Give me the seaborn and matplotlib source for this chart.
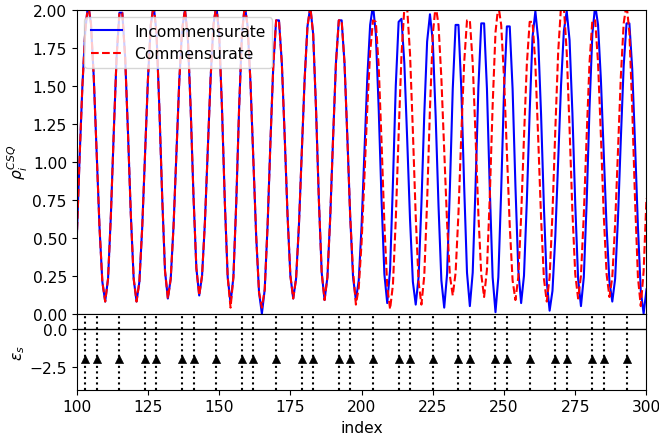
import numpy as np
import matplotlib
matplotlib.use("Agg")
import matplotlib.pyplot as plt
import seaborn as sns

# Site index along the chain
site_index = list(range(100, 301))

# Charge density of the incommensurate solution
rho_incommensurate = [
    0.48, 1.02, 1.50, 1.86, 2.04, 1.91, 1.55, 1.06, 0.57, 0.21,
    0.08, 0.23, 0.65, 1.19, 1.69, 1.98, 1.98, 1.69, 1.19, 0.65,
    0.23, 0.08, 0.21, 0.57, 1.06, 1.54, 1.90, 2.03, 1.85, 1.36,
    0.77, 0.28, 0.10, 0.23, 0.58, 1.05, 1.53, 1.87, 2.00, 1.82,
    1.35, 0.77, 0.30, 0.12, 0.25, 0.60, 1.08, 1.55, 1.90, 2.03,
    1.84, 1.35, 0.73, 0.24, 0.07, 0.24, 0.73, 1.35, 1.84, 2.03,
    1.89, 1.52, 1.02, 0.51, 0.14, 0.00, 0.16, 0.58, 1.13, 1.63,
    1.93, 1.93, 1.65, 1.17, 0.65, 0.25, 0.10, 0.23, 0.58, 1.06,
    1.54, 1.89, 2.02, 1.84, 1.35, 0.75, 0.27, 0.09, 0.24, 0.64,
    1.16, 1.65, 1.93, 1.93, 1.65, 1.16, 0.64, 0.24, 0.09, 0.22,
    0.58, 1.06, 1.55, 1.90, 2.03, 1.84, 1.35, 0.75, 0.26, 0.07,
    0.29, 0.86, 1.50, 1.92, 1.94, 1.65, 1.15, 0.62, 0.21, 0.06,
    0.24, 0.72, 1.31, 1.79, 1.97, 1.79, 1.30, 0.71, 0.22, 0.04,
    0.26, 0.83, 1.48, 1.90, 1.90, 1.48, 0.84, 0.27, 0.05, 0.27,
    0.84, 1.49, 1.91, 1.91, 1.48, 0.82, 0.24, 0.01, 0.24, 0.81,
    1.47, 1.89, 1.89, 1.48, 0.84, 0.29, 0.07, 0.25, 0.74, 1.33,
    1.82, 1.99, 1.80, 1.31, 0.70, 0.21, 0.02, 0.15, 0.51, 1.01,
    1.50, 1.86, 1.99, 1.80, 1.32, 0.72, 0.23, 0.05, 0.24, 0.73,
    1.35, 1.84, 2.03, 1.90, 1.54, 1.06, 0.57, 0.21, 0.08, 0.23,
    0.63, 1.15, 1.63, 1.91, 1.91, 1.61, 1.11, 0.57, 0.15, 0.00,
    0.16,
]

# Charge density of the commensurate solution
rho_commensurate = [
    0.48, 1.02, 1.50, 1.86, 2.04, 1.91, 1.55, 1.06, 0.57, 0.21,
    0.08, 0.23, 0.65, 1.19, 1.69, 1.98, 1.98, 1.69, 1.19, 0.65,
    0.23, 0.08, 0.21, 0.57, 1.06, 1.54, 1.90, 2.03, 1.85, 1.36,
    0.77, 0.28, 0.10, 0.23, 0.58, 1.05, 1.53, 1.87, 2.00, 1.82,
    1.35, 0.77, 0.30, 0.12, 0.25, 0.60, 1.08, 1.55, 1.90, 2.03,
    1.84, 1.35, 0.73, 0.24, 0.04, 0.24, 0.73, 1.35, 1.84, 2.03,
    1.89, 1.52, 1.02, 0.51, 0.14, 0.04, 0.16, 0.58, 1.13, 1.63,
    1.93, 1.93, 1.65, 1.17, 0.65, 0.25, 0.10, 0.23, 0.58, 1.06,
    1.54, 1.89, 2.02, 1.84, 1.35, 0.75, 0.27, 0.09, 0.24, 0.64,
    1.16, 1.65, 1.93, 1.93, 1.65, 1.16, 0.64, 0.28, 0.06, 0.17,
    0.47, 0.90, 1.35, 1.72, 1.93, 1.92, 1.63, 1.13, 0.59, 0.18,
    0.03, 0.19, 0.62, 1.18, 1.70, 2.01, 2.01, 1.71, 1.20, 0.64,
    0.21, 0.06, 0.25, 0.74, 1.35, 1.84, 2.03, 1.90, 1.55, 1.08,
    0.60, 0.25, 0.12, 0.27, 0.66, 1.18, 1.65, 1.93, 1.93, 1.65,
    1.17, 0.65, 0.26, 0.11, 0.29, 0.77, 1.37, 1.85, 2.03, 1.90,
    1.55, 1.06, 0.58, 0.22, 0.09, 0.24, 0.64, 1.16, 1.64, 1.92,
    1.92, 1.64, 1.15, 0.63, 0.23, 0.08, 0.24, 0.66, 1.21, 1.72,
    2.02, 2.02, 1.72, 1.22, 0.67, 0.26, 0.10, 0.25, 0.65, 1.17,
    1.65, 1.93, 1.93, 1.65, 1.17, 0.65, 0.26, 0.11, 0.24, 0.59,
    1.08, 1.56, 1.91, 2.04, 1.85, 1.35, 0.74, 0.24, 0.05, 0.28,
    0.76,
]

# Sites carrying a soliton and their on-site energy
soliton_sites = [103, 107, 115, 124, 128, 137, 141, 149, 158, 162,
                 170, 179, 183, 192, 196, 204, 213, 217, 225, 234,
                 238, 247, 251, 259, 268, 272, 281, 285, 293]
soliton_energy = [-2.0] * len(soliton_sites)

assert len(site_index) == len(rho_incommensurate) == len(rho_commensurate)

plt.rcParams["font.size"] = 11.2
plt.rcParams["font.family"] = ["DejaVu Sans"]

fig, (ax1, ax2) = plt.subplots(
    2, 1, sharex=True, figsize=(6.59, 4.35), dpi=100,
    gridspec_kw={"height_ratios": [4, 1]},
)
fig.subplots_adjust(left=0.1164, right=0.981, top=0.9754, bottom=0.1018, hspace=0)

sns.lineplot(x=site_index, y=rho_incommensurate, color="b", linewidth=1.5,
             label="Incommensurate", ax=ax1)
sns.lineplot(x=site_index, y=rho_commensurate, color="r", linewidth=1.5,
             linestyle="--", label="Commensurate", ax=ax1)
ax1.set_ylim(0, 2)
ax1.set_ylabel(r"$\rho_i^{CSQ}$", labelpad=2)
ax1.legend(loc="upper left")

# Lower panel: on-site energy with soliton markers
ax2.axhline(0, color="k", linewidth=1)
for s in soliton_sites:
    ax2.axvline(s, color="k", linestyle=":", linewidth=1.5)
sns.scatterplot(x=soliton_sites, y=soliton_energy, marker="^", color="k",
                edgecolor="k", s=34, ax=ax2, zorder=3)
ax2.set_ylim(-4, 1)
ax2.set_yticks([-2.5, 0.0])
ax2.set_xlim(100, 300)
ax2.set_xticks([100, 125, 150, 175, 200, 225, 250, 275, 300])
ax2.set_xlabel("index")
ax2.set_ylabel(r"$\epsilon_s$", labelpad=2)

fig.savefig("out.png", dpi=100)
